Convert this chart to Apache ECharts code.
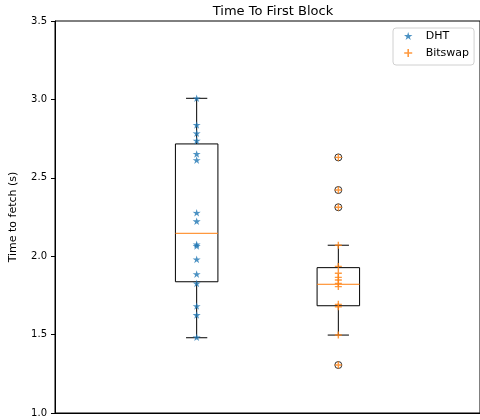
<!DOCTYPE html>
<html><head><meta charset="utf-8">
<script src="https://cdn.jsdelivr.net/npm/echarts@6/dist/echarts.min.js"></script>
<style>html,body{margin:0;padding:0;background:#fff}#c{width:480px;height:420px}</style>
</head><body><div id="c"></div>
<script>
const categories = ['DHT', 'Bitswap'];
const positions = [1, 2];
const dhtTimes = [3.007, 2.837, 2.784, 2.737, 2.652, 2.613, 2.277, 2.223, 2.076, 2.065, 1.98, 1.886, 1.827, 1.682, 1.625, 1.483];
const bitswapTimes = [2.63, 2.422, 2.312, 2.07, 1.935, 1.891, 1.865, 1.848, 1.827, 1.806, 1.693, 1.678, 1.497, 1.306];
// [whiskerLow, q1, median, q3, whiskerHigh]
const boxStats = [[1.48, 1.837, 2.146, 2.716, 3.007], [1.497, 1.684, 1.821, 1.927, 2.07]];
const outliers = [[], [2.63, 2.422, 2.312, 1.306]];
const yTicks = [1.0, 1.5, 2.0, 2.5, 3.0, 3.5];

const STAR = 'path://M0,-1L0.223,-0.307L0.951,-0.309L0.361,0.117L0.588,0.809L0,0.38L-0.588,0.809L-0.361,0.117L-0.951,-0.309L-0.223,-0.307Z';
const PLUS = 'path://M-1,-0.2H1V0.2H-1Z M-0.2,-1H0.2V1H-0.2Z';
const FONT = 'DejaVu Sans';

const chart = echarts.init(document.getElementById('c'), null, {renderer: 'canvas'});

const boxData = positions.map((p, i) => [p].concat(boxStats[i]));
const flierData = [];
outliers.forEach((arr, i) => arr.forEach(v => flierData.push([positions[i], v])));

function renderBox(params, api) {
  const x = api.value(0);
  const lo = api.value(1), q1 = api.value(2), med = api.value(3), q3 = api.value(4), hi = api.value(5);
  const hw = 0.15, cw = 0.075;
  const pL = api.coord([x - hw, q3]), pR = api.coord([x + hw, q1]);
  const c = api.coord([x, med]);
  const pLo = api.coord([x, lo]), pHi = api.coord([x, hi]);
  const pq1 = api.coord([x, q1]), pq3 = api.coord([x, q3]);
  const cl = api.coord([x - cw, 0])[0], cr = api.coord([x + cw, 0])[0];
  const black = {stroke: '#000', lineWidth: 1, fill: null};
  return {
    type: 'group',
    children: [
      {type: 'line', shape: {x1: c[0], y1: pq3[1], x2: c[0], y2: pHi[1]}, style: black},
      {type: 'line', shape: {x1: c[0], y1: pq1[1], x2: c[0], y2: pLo[1]}, style: black},
      {type: 'line', shape: {x1: cl, y1: pHi[1], x2: cr, y2: pHi[1]}, style: black},
      {type: 'line', shape: {x1: cl, y1: pLo[1], x2: cr, y2: pLo[1]}, style: black},
      {type: 'rect', shape: {x: pL[0], y: pL[1], width: pR[0] - pL[0], height: pR[1] - pL[1]}, style: {stroke: '#000', lineWidth: 1, fill: 'rgba(0,0,0,0)'}},
      {type: 'line', shape: {x1: pL[0], y1: c[1], x2: pR[0], y2: c[1]}, style: {stroke: '#ff7f0e', lineWidth: 1}}
    ]
  };
}

chart.setOption({
  animation: false,
  textStyle: {fontFamily: FONT},
  title: {
    text: 'Time To First Block', left: 268, textAlign: 'center', top: 0,
    textStyle: {fontFamily: FONT, fontSize: 13, fontWeight: 'normal', color: '#000'}
  },
  legend: {
    data: categories, orient: 'vertical', left: 393, top: 28,
    padding: [2, 5, 6, 11], itemWidth: 25, itemHeight: 8, itemGap: 5,
    borderColor: '#d0d0d0', borderWidth: 1, borderRadius: 3, backgroundColor: '#fff',
    textStyle: {fontFamily: FONT, fontSize: 11, lineHeight: 12, color: '#000'}
  },
  grid: {left: 55, top: 21, width: 426, bottom: 7, show: true, borderColor: '#000', borderWidth: 1, backgroundColor: 'transparent'},
  xAxis: {
    type: 'value', min: 0, max: 3,
    axisLine: {show: true, lineStyle: {color: '#000'}}, axisTick: {show: false}, axisLabel: {show: false}, splitLine: {show: false}
  },
  yAxis: {
    type: 'value', min: yTicks[0], max: yTicks[yTicks.length - 1], interval: 0.5,
    name: 'Time to fetch (s)', nameLocation: 'middle', nameGap: 36, nameRotate: 90,
    nameTextStyle: {fontFamily: FONT, fontSize: 11, color: '#000'},
    axisLine: {show: true, lineStyle: {color: '#000'}},
    axisTick: {show: true, inside: false, length: 4, lineStyle: {color: '#000'}},
    axisLabel: {fontFamily: FONT, fontSize: 10, color: '#000', margin: 8, formatter: v => v.toFixed(1)},
    splitLine: {show: false}
  },
  series: [
    {type: 'custom', name: 'box', renderItem: renderBox, data: boxData, z: 1, silent: true},
    {type: 'scatter', name: 'fliers', data: flierData, symbol: 'circle', symbolSize: 7,
     itemStyle: {color: 'rgba(0,0,0,0)', borderColor: '#000', borderWidth: 1}, z: 2},
    {type: 'scatter', name: categories[0], data: dhtTimes.map(v => [positions[0], v]), symbol: STAR, symbolSize: [8, 7.6],
     itemStyle: {color: '#1f77b4'}, z: 3},
    {type: 'scatter', name: categories[1], data: bitswapTimes.map(v => [positions[1], v]), symbol: PLUS, symbolSize: 7,
     itemStyle: {color: '#ff7f0e'}, z: 3}
  ]
});
</script></body></html>
